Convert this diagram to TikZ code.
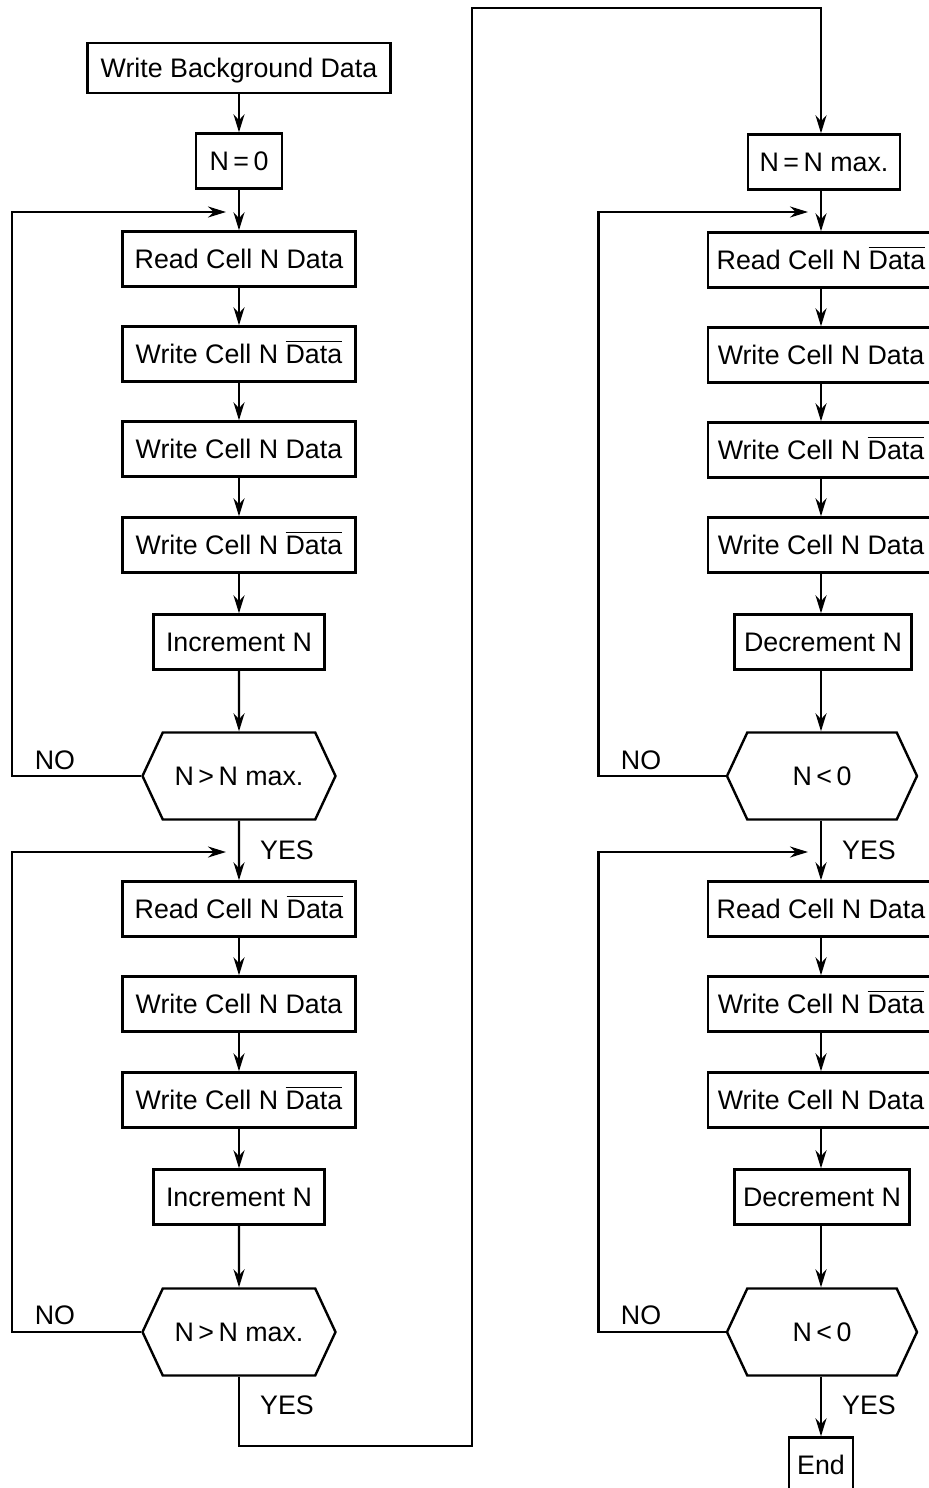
\documentclass[tikz,border=0pt]{standalone}
\usepackage{fontspec}
\setmainfont{Liberation Sans}
\usepackage{tikz}
\usetikzlibrary{shapes.symbols, arrows.meta}

\newcommand{\bardata}{$\overline{\mbox{Data}}$}

\begin{document}
\begin{tikzpicture}[
    x=0.5pt, y=-0.5pt,
    box/.style={draw, rectangle, line width=1.2pt, minimum height=27.5pt, minimum width=116.5pt, inner sep=2pt, text height=11pt, text depth=2pt, font=\fontsize{13.4pt}{16pt}\selectfont},
    rbox/.style={box, minimum width=113pt},
    test/.style={draw, signal, signal to=west and east, signal pointer angle=130, line width=1.2pt, minimum height=43.5pt, minimum width=96.5pt, inner sep=2pt, font=\fontsize{13.4pt}{16pt}\selectfont},
    label/.style={font=\fontsize{13.4pt}{16pt}\selectfont, inner sep=0pt},
    arrow/.style={draw, line width=1.2pt, -{Stealth[length=9pt, width=5.5pt]}}
]
    \useasboundingbox (0,0) rectangle (929,1488);

    % left column
    \node (wbg) [box, minimum width=151.5pt, minimum height=25pt] at (239,68) {Write Background Data};
    \node (nzero) [box, minimum width=43pt] at (239,161) {N\,=\,0};
    \node (lread1) [box] at (239,259) {Read Cell N Data};
    \node (lwrite1) [box] at (239,354) {Write Cell N \bardata};
    \node (lwrite2) [box] at (239,449) {Write Cell N Data};
    \node (lwrite3) [box] at (239,545) {Write Cell N \bardata};
    \node (linc1) [box, minimum width=85.5pt] at (239,642) {Increment N};
    \node (ltest1) [test] at (239,776) {N\,>\,N max.};
    \node (lread2) [box] at (239,909) {Read Cell N \bardata};
    \node (lwrite4) [box] at (239,1004) {Write Cell N Data};
    \node (lwrite5) [box] at (239,1100) {Write Cell N \bardata};
    \node (linc2) [box, minimum width=85.5pt] at (239,1197) {Increment N};
    \node (ltest2) [test] at (239,1332) {N\,>\,N max.};

    \node (lno1) [label] at (55,760) {NO};
    \node (lyes1) [label] at (287,850) {YES};
    \node (lno2) [label] at (55,1315) {NO};
    \node (lyes2) [label] at (287,1405) {YES};

    % right column
    \node (nmax) [box, minimum width=76pt] at (824,162) {N\,=\,N max.};
    \node (rread1) [rbox] at (821,260) {Read Cell N \bardata};
    \node (rwrite1) [rbox] at (821,355) {Write Cell N Data};
    \node (rwrite2) [rbox] at (821,450) {Write Cell N \bardata};
    \node (rwrite3) [rbox] at (821,545) {Write Cell N Data};
    \node (rdec1) [box, minimum width=88.5pt] at (823,642) {Decrement N};
    \node (rtest1) [test, minimum width=95pt] at (822,776) {N\,<\,0};
    \node (rread2) [rbox] at (821,909) {Read Cell N Data};
    \node (rwrite4) [rbox] at (821,1004) {Write Cell N \bardata};
    \node (rwrite5) [rbox] at (821,1100) {Write Cell N Data};
    \node (rdec2) [box, minimum width=87.5pt] at (822,1197) {Decrement N};
    \node (rtest2) [test, minimum width=95pt] at (822,1332) {N\,<\,0};
    \node (rend) [box, minimum width=32pt] at (821,1465) {End};

    \node (rno1) [label] at (641,760) {NO};
    \node (ryes1) [label] at (869,850) {YES};
    \node (rno2) [label] at (641,1315) {NO};
    \node (ryes2) [label] at (869,1405) {YES};

    % loop and jump points
    \coordinate (lback1) at (226,212);
    \coordinate (lback2) at (226,852);
    \coordinate (rback1) at (808,212);
    \coordinate (rback2) at (808,852);
    \coordinate (jumpa) at (472,1446);
    \coordinate (jumpb) at (472,8);

    \draw [arrow] (wbg) -- (nzero);
    \draw [arrow] (nzero) -- (lread1);
    \draw [arrow] (lread1) -- (lwrite1);
    \draw [arrow] (lwrite1) -- (lwrite2);
    \draw [arrow] (lwrite2) -- (lwrite3);
    \draw [arrow] (lwrite3) -- (linc1);
    \draw [arrow] (linc1) -- (ltest1);
    \draw [arrow] (ltest1) -- (lread2);
    \draw [arrow] (lread2) -- (lwrite4);
    \draw [arrow] (lwrite4) -- (lwrite5);
    \draw [arrow] (lwrite5) -- (linc2);
    \draw [arrow] (linc2) -- (ltest2);
    \draw [arrow] (ltest1.west) -- ++(-129,0) |- (lback1);
    \draw [arrow] (ltest2.west) -- ++(-129,0) |- (lback2);
    \draw [arrow] (ltest2.south) |- (jumpa) -- (jumpb) -| (rread1.north |- nmax.north);

    \draw [arrow] (nmax.south -| rread1) -- (rread1);
    \draw [arrow] (rread1) -- (rwrite1);
    \draw [arrow] (rwrite1) -- (rwrite2);
    \draw [arrow] (rwrite2) -- (rwrite3);
    \draw [arrow] (rwrite3) -- (rdec1.north -| rwrite3);
    \draw [arrow] (rdec1.south -| rwrite3) -- (rtest1.north -| rwrite3);
    \draw [arrow] (rtest1.south -| rwrite3) -- (rread2);
    \draw [arrow] (rread2) -- (rwrite4);
    \draw [arrow] (rwrite4) -- (rwrite5);
    \draw [arrow] (rwrite5) -- (rdec2.north -| rwrite5);
    \draw [arrow] (rdec2.south -| rwrite5) -- (rtest2.north -| rwrite5);
    \draw [arrow] (rtest2.south -| rwrite5) -- (rend);
    \draw [arrow] (rtest1.west) -- ++(-127,0) |- (rback1);
    \draw [arrow] (rtest2.west) -- ++(-127,0) |- (rback2);
\end{tikzpicture}
\end{document}
